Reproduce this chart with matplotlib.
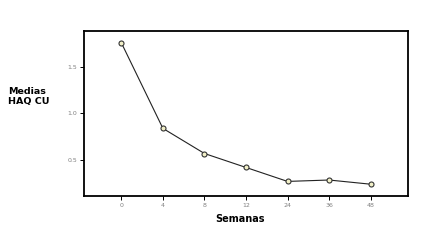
import matplotlib
matplotlib.use("Agg")
from matplotlib import pyplot as plt

# Weeks and mean HAQ CU values
semanas = ["0", "4", "8", "12", "24", "36", "48"]
medias = [1.76, 0.84, 0.57, 0.42, 0.27, 0.285, 0.24]

plt.rcParams["font.family"] = ["DejaVu Sans"]

fig = plt.figure(figsize=(4.35, 2.42), dpi=100)
ax = fig.add_axes([0.193, 0.19, 0.745, 0.682])

pos = list(range(len(semanas)))
ax.plot(pos, medias, color="#222222", linewidth=0.8, marker="o",
        markersize=3.6, markerfacecolor="#f2f0c8", markeredgecolor="#333333",
        markeredgewidth=0.8)

ax.set_xlim(-0.9, 6.9)
ax.set_ylim(0.113, 1.887)
ax.set_xticks(pos)
ax.set_xticklabels(semanas)
ax.set_yticks([0.5, 1.0, 1.5])
ax.set_yticklabels(["0.5", "1.0", "1.5"])

for s in ax.spines.values():
    s.set_linewidth(1.3)
    s.set_color("black")

ax.tick_params(direction="out", length=3, width=0.7, labelsize=4.5,
               labelcolor="#808080", pad=2)

fig.text(0.018, 0.60, "Medias\nHAQ CU", fontsize=6.8, fontweight="bold",
         ha="left", va="center", linespacing=1.1)
fig.text(0.551, 0.095, "Semanas", ha="center", va="center",
         fontsize=7, fontweight="bold")

fig.savefig("out.png", dpi=100)
